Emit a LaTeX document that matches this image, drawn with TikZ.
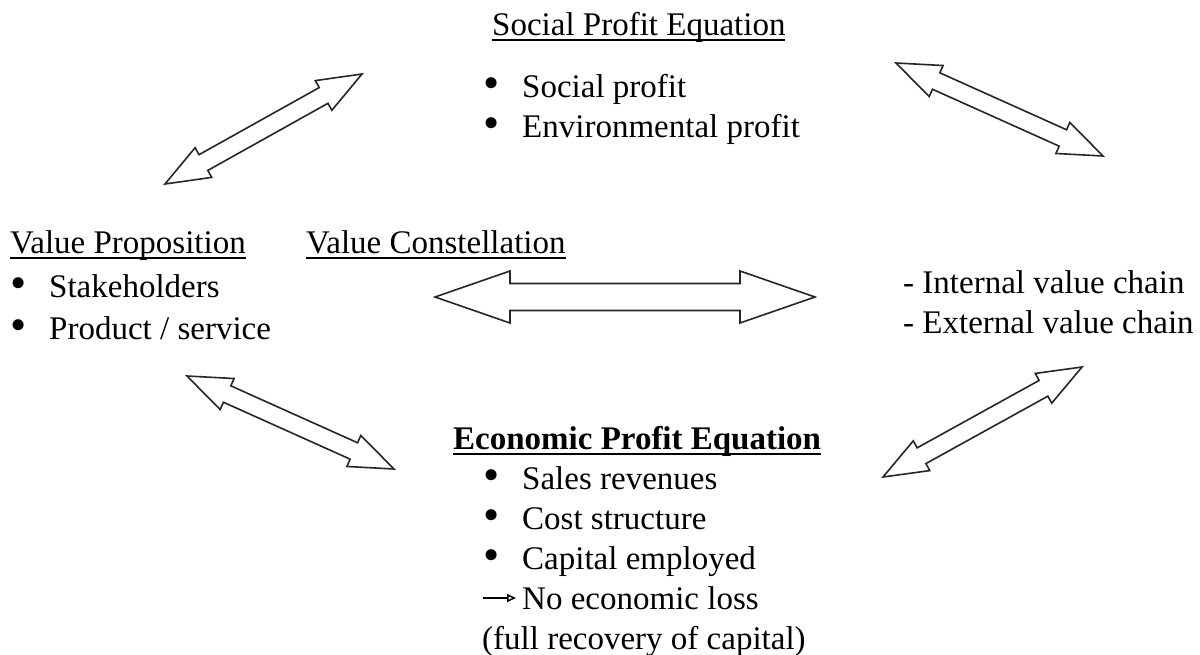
\documentclass[tikz,border=0pt]{standalone}
\usepackage{fontspec}
\setmainfont{Liberation Serif}
\usetikzlibrary{calc,arrows.meta}
\newcommand\myul[1]{\setbox0\hbox{#1}\rlap{\rule[-6pt]{\wd0}{1.8pt}}\box0}
\newcommand\bul[1]{\makebox[39pt][l]{\smash{\raisebox{-1pt}{\scalebox{1.4}{\textbullet}}}}#1}
\newcommand\dblarrow[5]{%
\draw[blockarr] (#1) -- ($(#1)!#5!(#2)!#4!90:(#2)$) -- ($(#1)!#5!(#2)!#3!90:(#2)$)
 -- ($(#2)!#5!(#1)!#3!-90:(#1)$) -- ($(#2)!#5!(#1)!#4!-90:(#1)$) -- (#2)
 -- ($(#2)!#5!(#1)!#4!90:(#1)$) -- ($(#2)!#5!(#1)!#3!90:(#1)$)
 -- ($(#1)!#5!(#2)!#3!-90:(#2)$) -- ($(#1)!#5!(#2)!#4!-90:(#2)$) -- cycle;}
\begin{document}
\begin{tikzpicture}[x=1pt,y=-1pt,
  txt/.style={anchor=base west,inner sep=0pt,font=\fontsize{33}{40}\selectfont},
  blockarr/.style={draw=black!85,line width=1.6pt,line join=miter,fill=white}]
\useasboundingbox[fill=white] (0,0) rectangle (1200,654);
% texts
\node[txt] (spe) at (492,35) {\myul{Social Profit Equation}};
\node[txt] (spe1) at (483,97) {\bul{Social profit}};
\node[txt] (spe2) at (483,137) {\bul{Environmental profit}};
\node[txt] (vp) at (10,253) {\myul{Value Proposition}};
\node[txt] (vc) at (306,253) {\myul{Value Constellation}};
\node[txt] (vp1) at (10,297) {\bul{Stakeholders}};
\node[txt] (vp2) at (10,339) {\bul{Product / service}};
\node[txt] (ivc) at (903,293) {- Internal value chain};
\node[txt] (evc) at (903,333) {- External value chain};
\node[txt] (epe) at (453,449) {\myul{\bfseries Economic Profit Equation}};
\node[txt] (e1) at (483,489) {\bul{Sales revenues}};
\node[txt] (e2) at (483,529) {\bul{Cost structure}};
\node[txt] (e3) at (483,569) {\bul{Capital employed}};
\node[txt] (e4) at (522,609) {No economic loss};
\node[txt] (e5) at (482,649) {(full recovery of capital)};
% small arrow glyph
\coordinate (g1) at ($(e4.base west)+(-39,-11)$);
\coordinate (g2) at ($(e4.base west)+(-6,-11)$);
\draw[line width=1.5pt,-{Triangle[open,length=9pt,width=8pt]}] (g1) -- (g2);
% block arrows
\coordinate (a1s) at (165,184); \coordinate (a1e) at (362,74);
\coordinate (a2s) at (896,63);  \coordinate (a2e) at (1103,156);
\coordinate (a3s) at (187,376); \coordinate (a3e) at (394,469);
\coordinate (a4s) at (883,477); \coordinate (a4e) at (1082,367);
\coordinate (hs) at (435,297);  \coordinate (he) at (815,297);
\dblarrow{a1s}{a1e}{9pt}{17pt}{44pt}
\dblarrow{a2s}{a2e}{9pt}{17pt}{44pt}
\dblarrow{a3s}{a3e}{9pt}{17pt}{44pt}
\dblarrow{a4s}{a4e}{9pt}{17pt}{44pt}
\dblarrow{hs}{he}{13.5pt}{26pt}{75pt}
\end{tikzpicture}
\end{document}
